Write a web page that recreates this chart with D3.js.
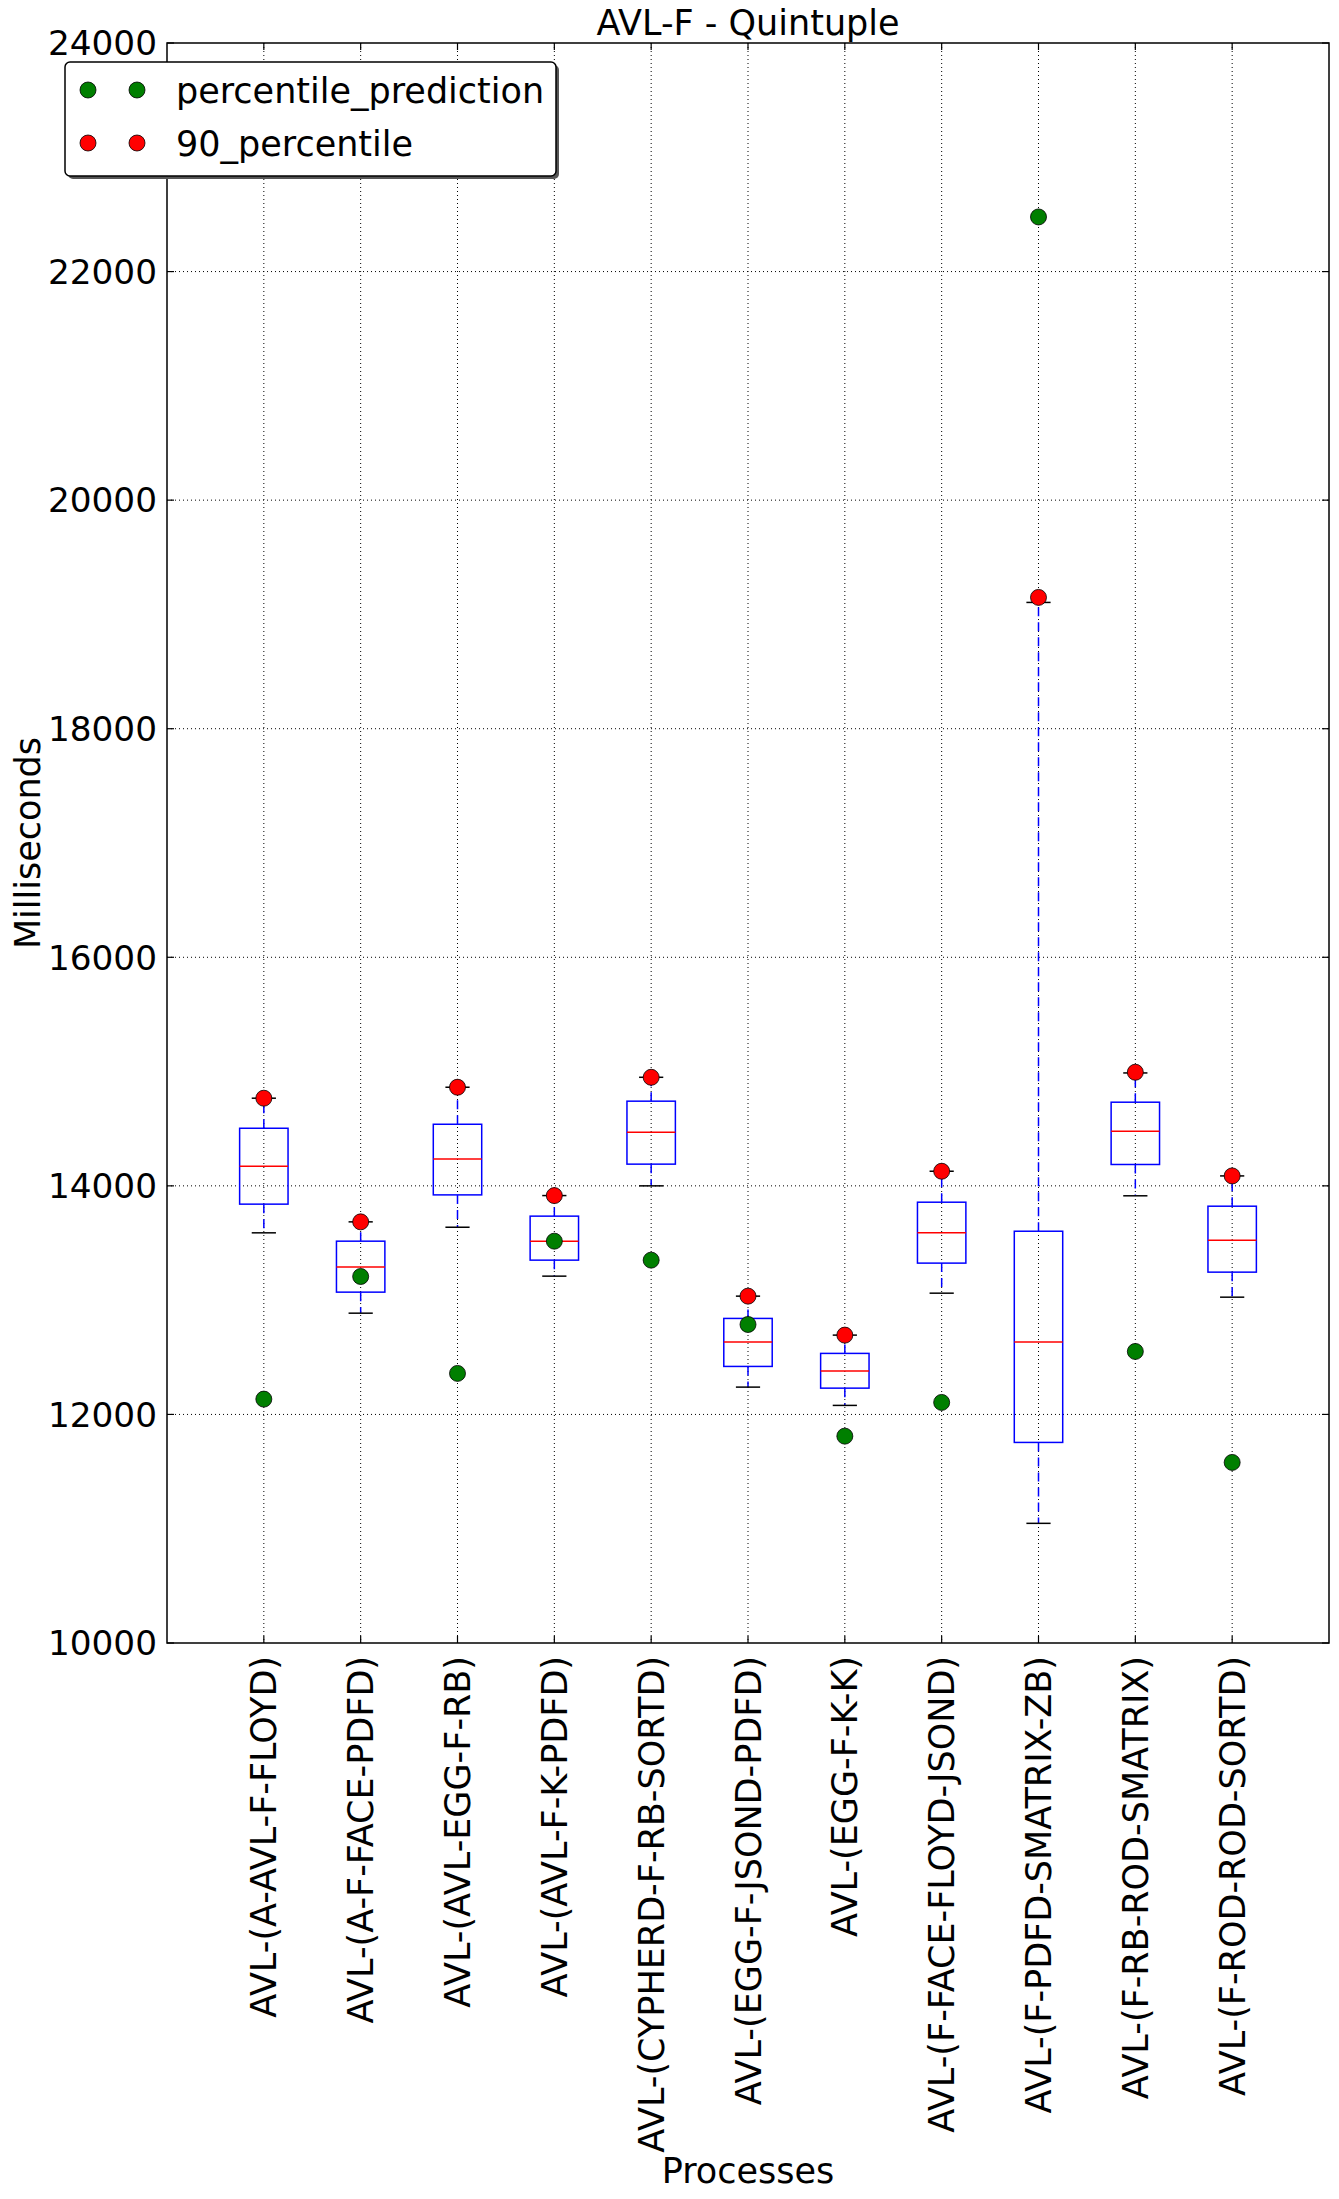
<!DOCTYPE html>
<html>
<head>
<meta charset="utf-8">
<script src="https://cdn.jsdelivr.net/npm/d3@7"></script>
<style>
  html, body { margin: 0; padding: 0; background: #fff; }
  svg { display: block; font-family: "DejaVu Sans", sans-serif; }
</style>
</head>
<body>
<svg id="chart" width="1339" height="2199"></svg>
<script>
// ---------- data ----------
const categories = [
  "AVL-(A-AVL-F-FLOYD)",
  "AVL-(A-F-FACE-PDFD)",
  "AVL-(AVL-EGG-F-RB)",
  "AVL-(AVL-F-K-PDFD)",
  "AVL-(CYPHERD-F-RB-SORTD)",
  "AVL-(EGG-F-JSOND-PDFD)",
  "AVL-(EGG-F-K-K)",
  "AVL-(F-FACE-FLOYD-JSOND)",
  "AVL-(F-PDFD-SMATRIX-ZB)",
  "AVL-(F-RB-ROD-SMATRIX)",
  "AVL-(F-ROD-ROD-SORTD)"
];
const whiskerLow  = [13589, 12886, 13638, 13210, 14000, 12239, 12079, 13061, 11047, 13913, 13026];
const q1          = [13840, 13070, 13921, 13350, 14190, 12420, 12230, 13324, 11755, 14187, 13245];
const median      = [14172, 13289, 14236, 13516, 14469, 12633, 12379, 13589, 12633, 14478, 13525];
const q3          = [14504, 13516, 14539, 13735, 14741, 12840, 12534, 13857, 13603, 14732, 13822];
const whiskerHigh = [14767, 13685, 14863, 13915, 14950, 13035, 12694, 14128, 19105, 14988, 14087];
const percentile90 = [14767, 13685, 14863, 13915, 14950, 13035, 12694, 14128, 19149, 14994, 14087];
const percentilePrediction = [12134, 13207, 12359, 13516, 13350, 12787, 11810, 12105, 22478, 12551, 11580];
const yTicks = [10000, 12000, 14000, 16000, 18000, 20000, 22000, 24000];
const legendLabels = ["percentile_prediction", "90_percentile"];

// ---------- layout ----------
const svg = d3.select("#chart");
const L = 167, R = 1329, T = 43, B = 1643;
const FS = 35;
const FSY = 34.3;

const x = d3.scaleLinear().domain([0, categories.length + 1]).range([L, R]);
const y = d3.scaleLinear().domain([10000, 24000]).range([B, T]);

const boxW = x(0.5) - x(0);
const capW = x(0.25) - x(0);

// grid
const grid = svg.append("g");
grid.selectAll("line.gy").data(yTicks.slice(1, -1)).enter().append("line")
  .attr("x1", L).attr("x2", R).attr("y1", d => y(d)).attr("y2", d => y(d))
  .attr("stroke", "#000").attr("stroke-width", 1).attr("stroke-dasharray", "1,3");
grid.selectAll("line.gx").data(categories).enter().append("line")
  .attr("x1", (d, i) => x(i + 1)).attr("x2", (d, i) => x(i + 1))
  .attr("y1", T).attr("y2", B)
  .attr("stroke", "#000").attr("stroke-width", 1).attr("stroke-dasharray", "1,3");

// boxes
const g = svg.append("g");
categories.forEach((c, i) => {
  const cx = x(i + 1);
  g.append("line").attr("x1", cx).attr("x2", cx).attr("y1", y(q3[i])).attr("y2", y(whiskerHigh[i]))
    .attr("stroke", "#0000ff").attr("stroke-width", 1.5).attr("stroke-dasharray", "9,6");
  g.append("line").attr("x1", cx).attr("x2", cx).attr("y1", y(q1[i])).attr("y2", y(whiskerLow[i]))
    .attr("stroke", "#0000ff").attr("stroke-width", 1.5).attr("stroke-dasharray", "9,6");
  [whiskerHigh[i], whiskerLow[i]].forEach(v => {
    g.append("line").attr("x1", cx - capW / 2).attr("x2", cx + capW / 2)
      .attr("y1", y(v)).attr("y2", y(v)).attr("stroke", "#000").attr("stroke-width", 1.5);
  });
  g.append("rect").attr("x", cx - boxW / 2).attr("width", boxW)
    .attr("y", y(q3[i])).attr("height", y(q1[i]) - y(q3[i]))
    .attr("fill", "none").attr("stroke", "#0000ff").attr("stroke-width", 1.5);
  g.append("line").attr("x1", cx - boxW / 2).attr("x2", cx + boxW / 2)
    .attr("y1", y(median[i])).attr("y2", y(median[i]))
    .attr("stroke", "#ff0000").attr("stroke-width", 1.5);
});

// points
const R_PT = 8;
const pts = svg.append("g");
pts.selectAll("circle.pred").data(percentilePrediction).enter().append("circle")
  .attr("cx", (d, i) => x(i + 1)).attr("cy", d => y(d)).attr("r", R_PT)
  .attr("fill", "#007f00").attr("stroke", "#000").attr("stroke-width", 0.8);
pts.selectAll("circle.p90").data(percentile90).enter().append("circle")
  .attr("cx", (d, i) => x(i + 1)).attr("cy", d => y(d)).attr("r", R_PT)
  .attr("fill", "#ff0000").attr("stroke", "#000").attr("stroke-width", 0.8);

// frame
svg.append("rect").attr("x", L).attr("y", T).attr("width", R - L).attr("height", B - T)
  .attr("fill", "none").attr("stroke", "#000").attr("stroke-width", 1.5);

// ticks (inside, both sides)
const tk = 7;
const ticksG = svg.append("g").attr("stroke", "#000").attr("stroke-width", 1.2);
yTicks.forEach(v => {
  ticksG.append("line").attr("x1", L).attr("x2", L + tk).attr("y1", y(v)).attr("y2", y(v));
  ticksG.append("line").attr("x1", R).attr("x2", R - tk).attr("y1", y(v)).attr("y2", y(v));
});
categories.forEach((c, i) => {
  ticksG.append("line").attr("x1", x(i + 1)).attr("x2", x(i + 1)).attr("y1", B).attr("y2", B - tk);
  ticksG.append("line").attr("x1", x(i + 1)).attr("x2", x(i + 1)).attr("y1", T).attr("y2", T + tk);
});

// y tick labels
svg.append("g").selectAll("text").data(yTicks).enter().append("text")
  .attr("x", L - 10).attr("y", d => y(d)).attr("dy", "0.36em")
  .attr("text-anchor", "end").attr("font-size", FSY).attr("fill", "#000")
  .text(d => d);

// x tick labels (vertical)
svg.append("g").selectAll("text").data(categories).enter().append("text")
  .attr("transform", (d, i) => `translate(${x(i + 1)},${B + 13}) rotate(-90)`)
  .attr("text-anchor", "end").attr("dy", "0.36em")
  .attr("font-size", FS).attr("fill", "#000")
  .text(d => d);

// title & axis labels
svg.append("text").attr("x", (L + R) / 2).attr("y", 35).attr("text-anchor", "middle")
  .attr("font-size", FS).text("AVL-F - Quintuple");
svg.append("text").attr("x", (L + R) / 2).attr("y", 2183).attr("text-anchor", "middle")
  .attr("font-size", FS).text("Processes");
svg.append("text").attr("transform", `translate(40,${(T + B) / 2}) rotate(-90)`)
  .attr("text-anchor", "middle").attr("font-size", FS).text("Milliseconds");

// legend
const lg = svg.append("g");
const lx = 65, ly = 62, lw = 491, lh = 114;
lg.append("rect").attr("x", lx + 3).attr("y", ly + 3).attr("width", lw).attr("height", lh)
  .attr("rx", 5).attr("fill", "#555");
lg.append("rect").attr("x", lx).attr("y", ly).attr("width", lw).attr("height", lh)
  .attr("rx", 5).attr("fill", "#fff").attr("stroke", "#000").attr("stroke-width", 1.5);
const legColors = ["#007f00", "#ff0000"];
legendLabels.forEach((lab, k) => {
  const ry = ly + 28 + k * 53;
  [88, 137].forEach(mx => {
    lg.append("circle").attr("cx", mx).attr("cy", ry).attr("r", R_PT)
      .attr("fill", legColors[k]).attr("stroke", "#000").attr("stroke-width", 0.8);
  });
  lg.append("text").attr("x", 176).attr("y", ry).attr("dy", "0.36em")
    .attr("font-size", FS).text(lab);
});
</script>
</body>
</html>
